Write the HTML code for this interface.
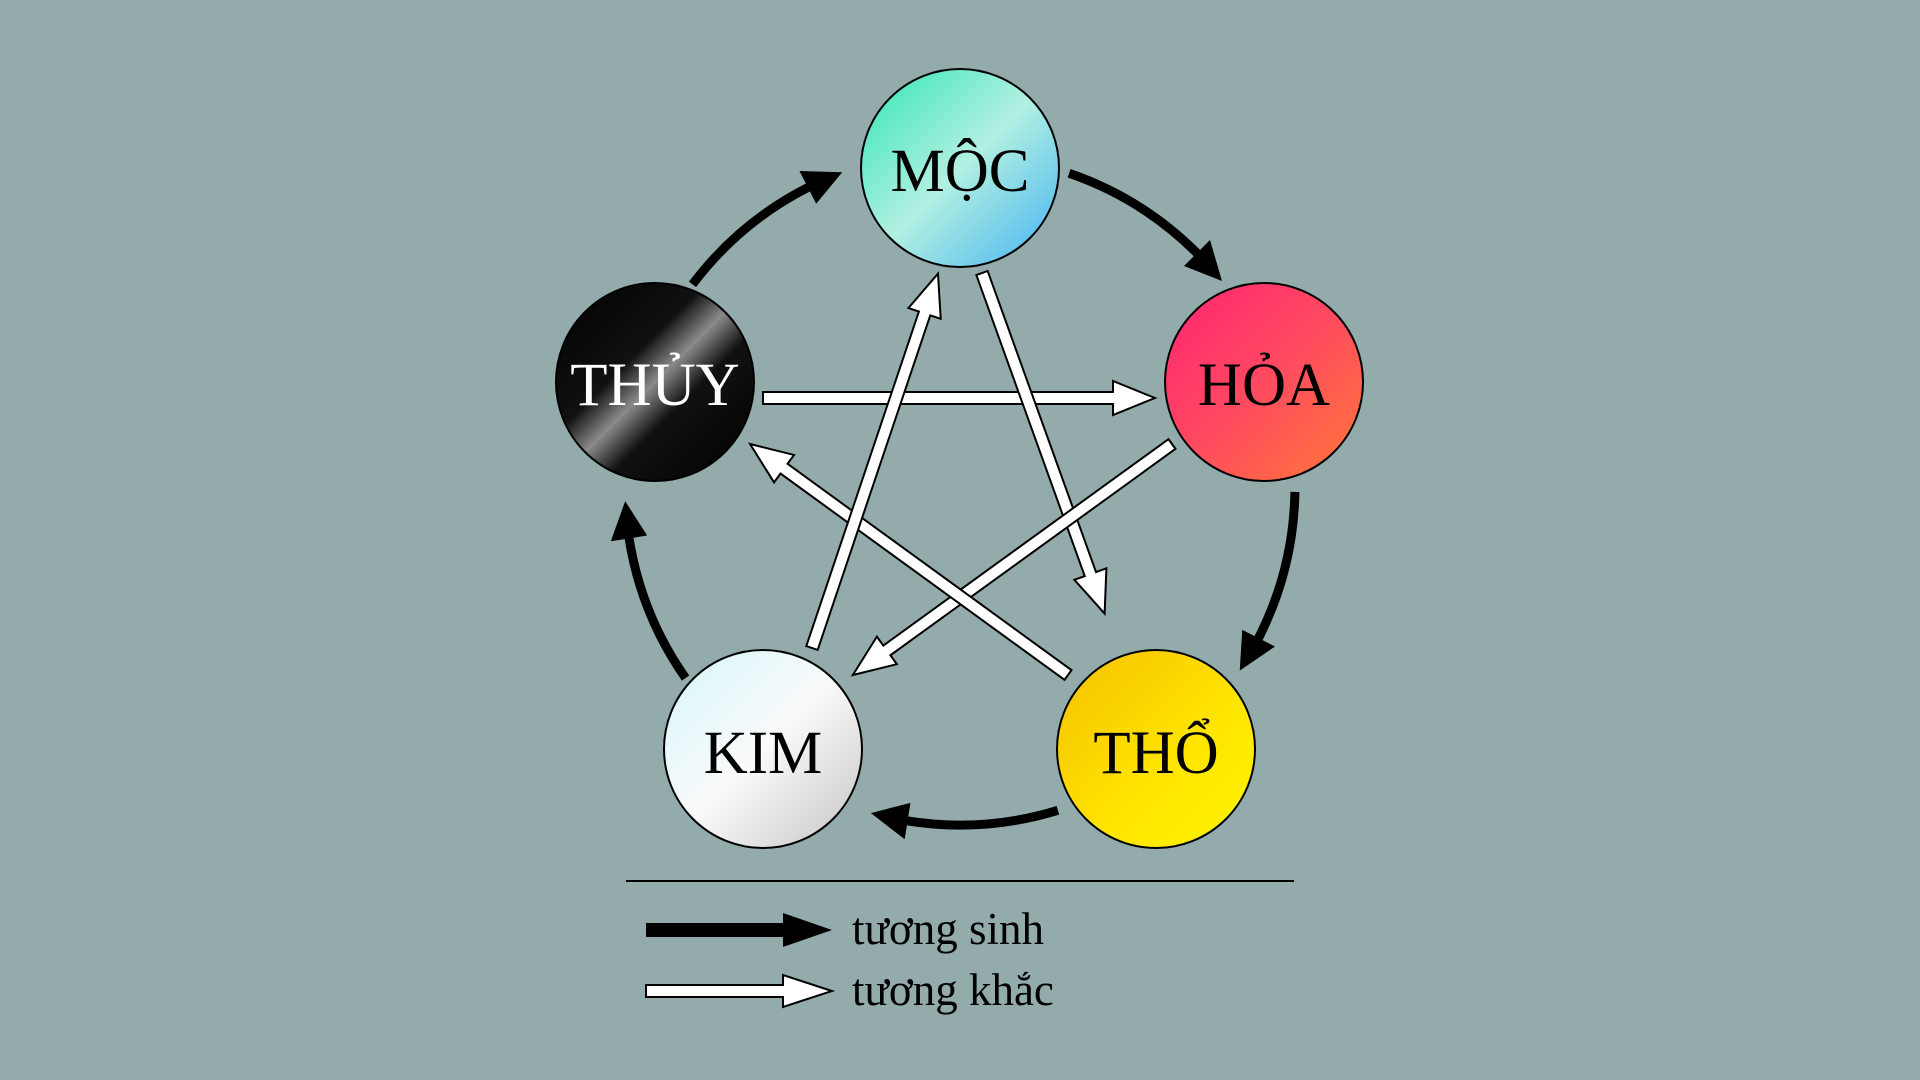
<!DOCTYPE html>
<html><head><meta charset="utf-8"><style>
html,body{margin:0;padding:0;background:#93abaa;}
svg{display:block;}
text{font-family:"Liberation Serif",serif;}
</style></head><body>
<svg width="1920" height="1080" viewBox="0 0 1920 1080" xmlns="http://www.w3.org/2000/svg">
<defs>
<linearGradient id="gm" x1="0" y1="0" x2="1" y2="1"><stop offset="0" stop-color="#2ee6b0"/><stop offset="0.5" stop-color="#b2f0e2"/><stop offset="1" stop-color="#42b2f2"/></linearGradient>
<linearGradient id="gt" x1="0" y1="0" x2="1" y2="1"><stop offset="0" stop-color="#000"/><stop offset="0.38" stop-color="#111"/><stop offset="0.5" stop-color="#8a8a8a"/><stop offset="0.62" stop-color="#111"/><stop offset="1" stop-color="#000"/></linearGradient>
<linearGradient id="gh" x1="0" y1="0" x2="1" y2="1"><stop offset="0" stop-color="#ff2472"/><stop offset="0.5" stop-color="#ff4a60"/><stop offset="1" stop-color="#ff7a36"/></linearGradient>
<linearGradient id="gk" x1="0" y1="0" x2="1" y2="1"><stop offset="0" stop-color="#d4f6fa"/><stop offset="0.5" stop-color="#fafafa"/><stop offset="1" stop-color="#c4c4c4"/></linearGradient>
<linearGradient id="go" x1="0" y1="0" x2="1" y2="1"><stop offset="0" stop-color="#f6c000"/><stop offset="0.6" stop-color="#ffe600"/><stop offset="1" stop-color="#fff400"/></linearGradient>
<g id="arc">
<path d="M1069.1,173.3 A335,335 0 0 1 1198,254.2" fill="none" stroke="#000" stroke-width="9"/>
<polygon points="1184,266 1210,240 1222,281" fill="#000"/>
</g>
</defs>
<use href="#arc"/>
<use href="#arc" transform="translate(0,-4) rotate(72 960 490)"/>
<use href="#arc" transform="rotate(144 960 490)"/>
<use href="#arc" transform="translate(0,-4) rotate(216 960 490)"/>
<use href="#arc" transform="translate(0,-4) rotate(288 960 490)"/>

<g fill="#fff" stroke="#000" stroke-width="2" stroke-linejoin="miter">
<g transform="translate(763,398) rotate(0)"><path d="M0,-6 L350,-6 L350,-17 L392,0 L350,17 L350,6 L0,6 Z"/></g>
<g transform="translate(982,273) rotate(70.2)"><path d="M0,-6 L320,-6 L320,-17 L362,0 L320,17 L320,6 L0,6 Z"/></g>
<g transform="translate(1172,444) rotate(144.1)"><path d="M0,-6 L352,-6 L352,-17 L394,0 L352,17 L352,6 L0,6 Z"/></g>
<g transform="translate(1068,675) rotate(216)"><path d="M0,-6 L351,-6 L351,-17 L393,0 L351,17 L351,6 L0,6 Z"/></g>
<g transform="translate(812,648) rotate(-71.4)"><path d="M0,-6 L353,-6 L353,-17 L395,0 L353,17 L353,6 L0,6 Z"/></g>
</g>

<g stroke="#000" stroke-width="2">
<circle cx="960" cy="168" r="99" fill="url(#gm)"/>
<circle cx="1264" cy="382" r="99" fill="url(#gh)"/>
<circle cx="1156" cy="749" r="99" fill="url(#go)"/>
<circle cx="763" cy="749" r="99" fill="url(#gk)"/>
<circle cx="655" cy="382" r="99" fill="url(#gt)"/>
</g>
<g font-size="61" text-anchor="middle">
<text x="960" y="191">MỘC</text>
<text x="1264" y="405">HỎA</text>
<text x="1156" y="773">THỔ</text>
<text x="763" y="773">KIM</text>
<text x="655" y="405" fill="#fff">THỦY</text>
</g>

<line x1="626" y1="881" x2="1294" y2="881" stroke="#000" stroke-width="2"/>
<path d="M646,923 L783,923 L783,913 L832,930 L783,947 L783,937 L646,937 Z" fill="#000"/>
<path d="M646,985 L783,985 L783,975 L832,991 L783,1007 L783,997 L646,997 Z" fill="#fff" stroke="#000" stroke-width="2"/>
<text x="852" y="944" font-size="45">tương sinh</text>
<text x="852" y="1005" font-size="45">tương khắc</text>
</svg>
</body></html>
